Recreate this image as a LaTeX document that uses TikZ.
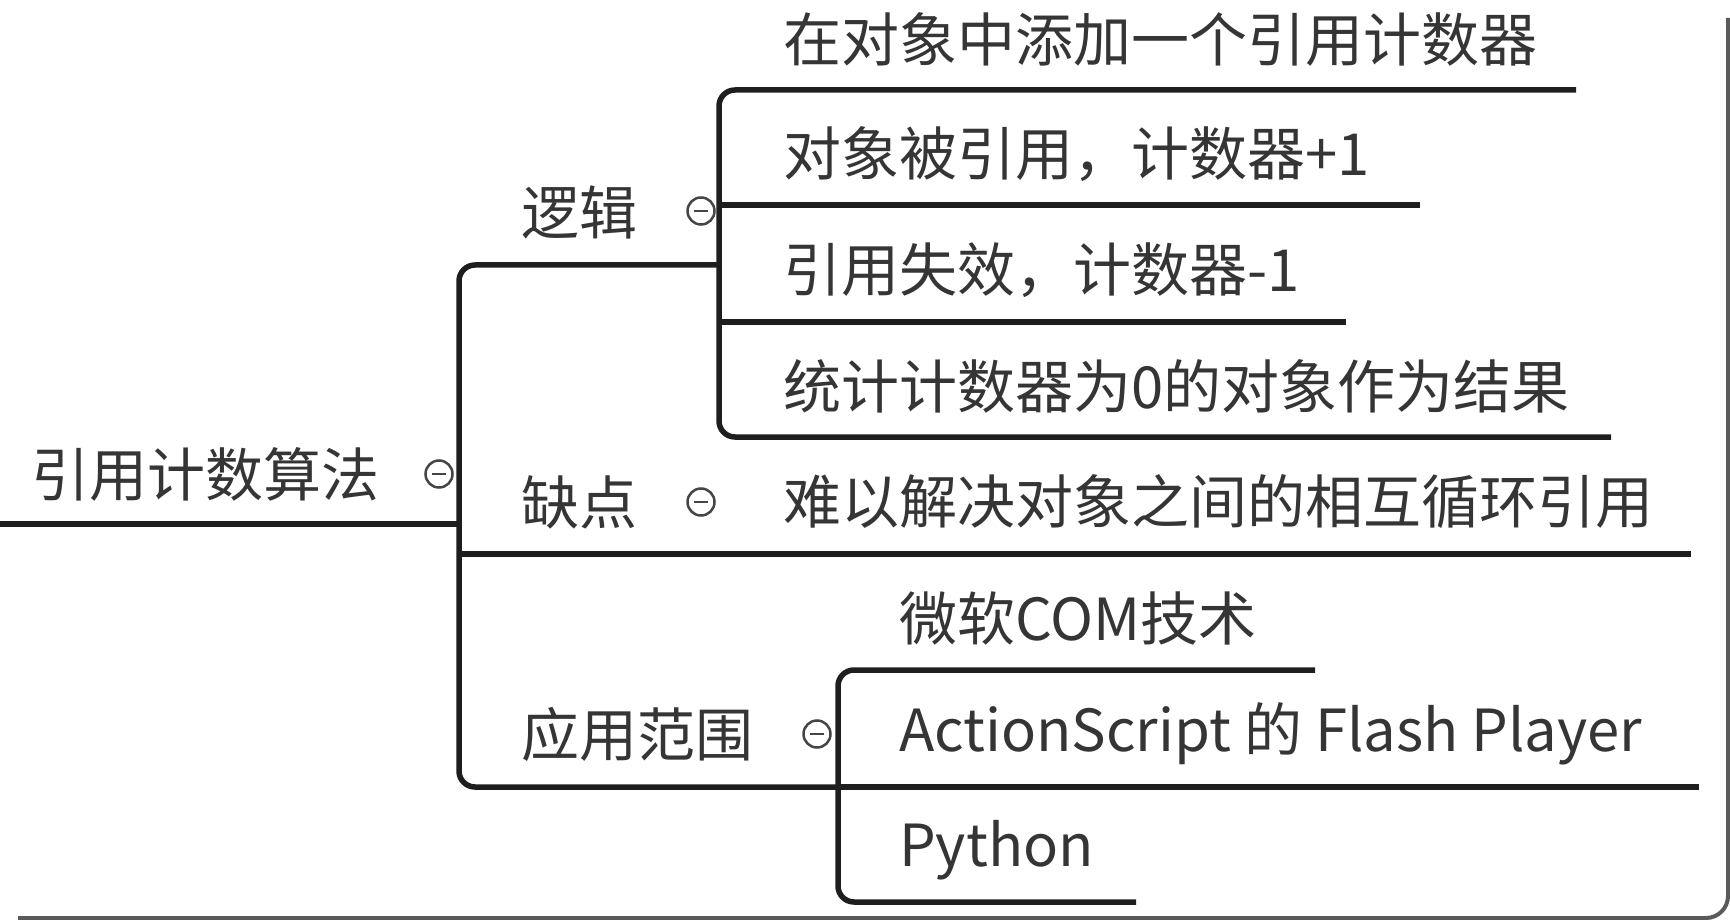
\documentclass[tikz,border=0pt]{standalone}
\usepackage{fontspec}
\setmainfont{Noto Sans CJK SC}
\definecolor{textc}{HTML}{353535}
\definecolor{linec}{HTML}{1E1E1E}
\definecolor{foldc}{HTML}{454545}
\definecolor{framec}{HTML}{5A5A5A}
\tikzset{
  txt/.style={anchor=west, inner sep=0pt, font=\fontsize{58}{60}\selectfont, text=textc},
  conn/.style={draw=linec, line width=5.5pt, rounded corners=16pt},
  fold/.style={circle, draw=foldc, line width=2.5pt, minimum size=27pt, inner sep=0pt,
    path picture={\draw[foldc, line width=2.2pt]
      ([xshift=-7pt]path picture bounding box.center) -- ([xshift=7pt]path picture bounding box.center);}},
}
\begin{document}
\begin{tikzpicture}[x=1pt, y=-1pt]
\useasboundingbox (0,0) rectangle (1730,920);
\fill[white] (0,0) rectangle (1730,920);
% frame (screenshot edge)
\draw[framec, line width=4pt, rounded corners=22pt] (1728,18) -- (1728,918) -- (18,918);

% root
\node[txt] (root) at (31,474) {引用计数算法};
\node[fold] (froot) at (439,474) {};
% branch 1
\node[txt] (logic) at (521,212) {逻辑};
\node[fold] (flogic) at (701,211) {};
\node[txt] (l1) at (783,39) {在对象中添加一个引用计数器};
\node[txt] (l2) at (783,154) {对象被引用，计数器+1};
\node[txt] (l3) at (783,270) {引用失效，计数器-1};
\node[txt] (l4) at (783,386) {统计计数器为0的对象作为结果};
% branch 2
\node[txt] (defect) at (521,502) {缺点};
\node[fold] (fdefect) at (701,502) {};
\node[txt] (d1) at (783,502) {难以解决对象之间的相互循环引用};
% branch 3
\node[txt] (scope) at (521,734) {应用范围};
\node[fold] (fscope) at (817,734) {};
\node[txt] (s1) at (899,618) {微软COM技术};
\node[txt] (s2) at (899,734) {ActionScript 的 Flash Player};
\node[txt] (s3) at (899,850) {Python};

% connector coordinates
\coordinate (r0) at (0,524);
\coordinate (rj) at (459,524);
\coordinate (lj) at (459,265);
\coordinate (le) at (719,265);
\coordinate (sj) at (459,787);
\coordinate (se) at (838,787);
\coordinate (dj) at (459,554);
\coordinate (de) at (1691,554);
\coordinate (l1a) at (719,90);  \coordinate (l1e) at (1576,90);
\coordinate (l2a) at (719,205); \coordinate (l2e) at (1420,205);
\coordinate (l3a) at (719,322); \coordinate (l3e) at (1346,322);
\coordinate (l4a) at (719,437); \coordinate (l4e) at (1611,437);
\coordinate (s1a) at (838,670); \coordinate (s1e) at (1315,670);
\coordinate (s2e) at (1699,787);
\coordinate (s3a) at (838,902); \coordinate (s3e) at (1136,902);

\draw[conn] (r0) -- (rj);
\draw[conn] (le) -- (lj) -- (sj) -- (se);
\draw[conn] (dj) -- (de);
\draw[conn] (l1e) -- (l1a) -- (l4a) -- (l4e);
\draw[conn] (l2a) -- (l2e);
\draw[conn] (l3a) -- (l3e);
\draw[conn] (s1e) -- (s1a) -- (s3a) -- (s3e);
\draw[conn] (se) -- (s2e);
\end{tikzpicture}
\end{document}
